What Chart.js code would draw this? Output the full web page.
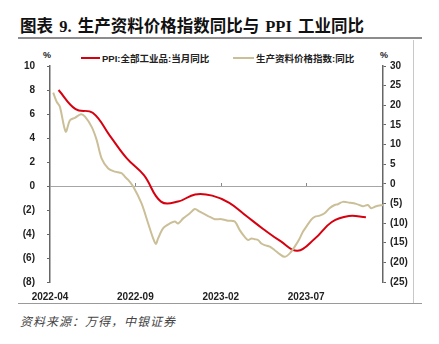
<!DOCTYPE html>
<html>
<head>
<meta charset="utf-8">
<script src="https://cdn.jsdelivr.net/npm/chart.js@4"></script>
<style>
  body { margin: 0; background: #fff; width: 439px; height: 344px; position: relative; overflow: hidden; font-family: "Liberation Sans", "Noto Sans CJK SC", sans-serif; }
  .abs { position: absolute; }
  #title { left: 20px; top: 13px; font: bold 16.5px "Liberation Serif", "Noto Sans CJK SC", serif; color: #111; white-space: nowrap; word-spacing: 2px; }
  #rule { left: 18px; top: 37px; width: 404px; height: 2px; background: #8c8c8c; }
  #vrule { left: 413px; top: 40px; width: 1px; height: 263px; background: #c8c8c8; }
  #brule { left: 18px; top: 303px; width: 404px; height: 1px; background: #9a9a9a; }
  #source { left: 20px; top: 312px; font: italic 12px "Noto Sans CJK SC", sans-serif; color: #444; letter-spacing: 1px; }
  .legend { top: 51px; font: bold 9.5px "Liberation Sans", "Noto Sans CJK SC", sans-serif; color: #222; display: flex; align-items: center; white-space: nowrap; }
  .swatch { display: inline-block; height: 2px; margin-right: 2px; }
  .pct { top: 50px; font: bold 9px "Liberation Sans", sans-serif; color: #222; }
  #wrap { left: 0; top: 40px; width: 413px; height: 263px; }
</style>
</head>
<body>
<div id="title" class="abs">图表 9. 生产资料价格指数同比与 PPI 工业同比</div>
<div id="rule" class="abs"></div>
<div id="vrule" class="abs"></div>
<div id="brule" class="abs"></div>
<div class="abs legend" style="left:81px"><span class="swatch" style="width:19px;background:#d7000f"></span>PPI:全部工业品:当月同比</div>
<div class="abs legend" style="left:233px"><span class="swatch" style="width:21px;background:#cbbf98"></span>生产资料价格指数:同比</div>
<div class="abs pct" style="left:43px">%</div>
<div class="abs pct" style="left:380px">%</div>
<div id="wrap" class="abs"><canvas id="chart"></canvas></div>
<div id="source" class="abs">资料来源：万得，中银证券</div>

<script>
/* ── Data (x = months since 2022-04) ── */
const xTickValues = [0, 5, 10, 15];
const xTickLabels = ["2022-04", "2022-09", "2023-02", "2023-07"];

const ppiMonths = [0.5, 1.5, 2.5, 3.5, 4.5, 5.5, 6.5, 7.5, 8.5, 9.5, 10.5, 11.5, 12.5, 13.5, 14.5, 15.5, 16.5, 17.5, 18.5];
const ppiValues = [8.0, 6.4, 6.1, 4.2, 2.3, 0.9, -1.3, -1.3, -0.7, -0.8, -1.4, -2.5, -3.6, -4.6, -5.4, -4.4, -3.0, -2.5, -2.6];

const matMonths = [0.19, 0.39, 0.58, 0.92, 1.17, 1.46, 1.81, 2.05, 2.44, 2.73, 3.02, 3.41, 3.80, 4.19, 4.39, 4.58, 4.87,
  5.36, 5.75, 6.04, 6.20, 6.33, 6.63, 7.02, 7.31, 7.50, 7.80, 8.19, 8.48, 8.77, 9.26, 9.65, 10.04, 10.43, 10.82,
  11.11, 11.40, 11.60, 11.80, 11.99, 12.18, 12.38, 12.57, 12.87, 13.16, 13.45, 13.74, 14.04, 14.33, 14.62, 14.81,
  15.01, 15.30, 15.50, 15.79, 16.08, 16.37, 16.67, 16.86, 17.15, 17.54, 17.93, 18.32, 18.61, 18.81, 19.10, 19.49];
const matValues = [23.2, 20.9, 19.6, 13.3, 16.2, 16.8, 17.7, 17.1, 14.5, 11.2, 6.5, 3.9, 3.1, 2.7, 1.8, 1.0, -0.7,
  -5.0, -10.1, -13.9, -15.3, -13.9, -11.3, -10.1, -9.6, -10.1, -8.8, -7.5, -6.4, -7.1, -8.2, -9.0, -9.0, -9.4, -9.6,
  -11.8, -13.5, -14.3, -13.9, -14.1, -14.3, -15.2, -15.6, -16.0, -16.9, -17.9, -18.6, -17.7, -16.0, -13.9, -12.2,
  -10.9, -9.1, -8.4, -8.1, -7.5, -6.2, -5.4, -5.2, -4.6, -4.8, -5.1, -5.7, -5.4, -6.2, -5.7, -5.4];

const ppiPoints = ppiMonths.map((m, i) => ({ x: m, y: ppiValues[i] }));
const matPoints = matMonths.map((m, i) => ({ x: m, y: matValues[i] }));

const paren = v => (v < 0 ? "(" + (-v) + ")" : String(v));
const tickFont = { family: "'Liberation Sans', Arial, sans-serif", size: 10, weight: "bold" };

/* ── Small tick marks sitting on the zero line ── */
const zeroTicks = {
  id: "zeroTicks",
  afterDatasetsDraw(chart) {
    const xs = chart.scales.x, y0 = chart.scales.yL.getPixelForValue(0);
    const c = chart.ctx;
    c.save();
    c.strokeStyle = "#888";
    c.lineWidth = 1;
    xTickValues.slice(1).forEach(v => {
      const px = Math.round(xs.getPixelForValue(v)) + 0.5;
      c.beginPath(); c.moveTo(px, y0); c.lineTo(px, y0 - 3); c.stroke();
    });
    c.restore();
  }
};

new Chart(document.getElementById("chart"), {
  type: "line",
  data: {
    datasets: [
      { label: "生产资料价格指数:同比", data: matPoints, yAxisID: "yR", borderColor: "#cbbf98", borderWidth: 2, pointRadius: 0, tension: 0.3 },
      { label: "PPI:全部工业品:当月同比", data: ppiPoints, yAxisID: "yL", borderColor: "#d7000f", borderWidth: 2, pointRadius: 0, tension: 0.4 }
    ]
  },
  options: {
    responsive: true,
    maintainAspectRatio: false,
    animation: false,
    layout: { padding: { top: 26, left: 0, right: 0, bottom: 0 } },
    plugins: { legend: { display: false }, tooltip: { enabled: false } },
    scales: {
      x: {
        type: "linear", min: 0, max: 19.5,
        afterBuildTicks: s => { s.ticks = xTickValues.map(v => ({ value: v })); },
        afterFit: s => { s.height = 21; },
        grid: { display: false },
        border: { display: false },
        ticks: { callback: v => xTickLabels[xTickValues.indexOf(v)] || "", font: tickFont, color: "#222", padding: 1, maxRotation: 0 }
      },
      yL: {
        position: "left", min: -8, max: 10,
        afterFit: s => { s.width = 50; },
        grid: { drawOnChartArea: true, color: c => (c.tick && c.tick.value === 0 ? "#a6a6a6" : "rgba(0,0,0,0)"), tickColor: "#666", tickLength: 3 },
        border: { color: "#666", width: 1.5 },
        ticks: { stepSize: 2, callback: paren, font: tickFont, color: "#222", padding: 12 }
      },
      yR: {
        position: "right", min: -25, max: 30,
        afterFit: s => { s.width = 30; },
        grid: { drawOnChartArea: false, tickColor: "#666", tickLength: 3 },
        border: { color: "#666", width: 1.5 },
        ticks: { stepSize: 5, callback: paren, font: tickFont, color: "#222", padding: 4 }
      }
    }
  },
  plugins: [zeroTicks]
});
</script>
</body>
</html>
